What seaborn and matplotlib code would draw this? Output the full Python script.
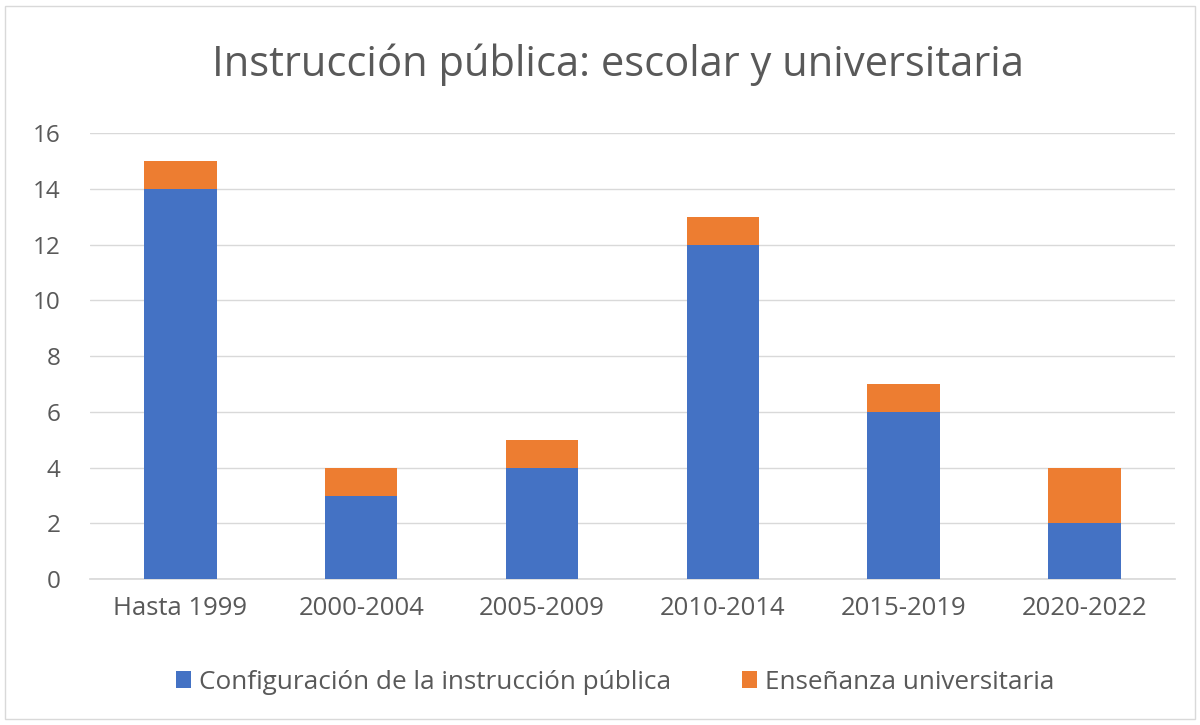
import matplotlib
matplotlib.use("Agg")
import matplotlib.pyplot as plt
import seaborn as sns
import numpy as np
from matplotlib.patches import Rectangle

categories = ["Hasta 1999", "2000-2004", "2005-2009", "2010-2014", "2015-2019", "2020-2022"]
configuracion = [14, 3, 4, 12, 6, 2]
ensenanza = [1, 1, 1, 1, 1, 2]
series_names = ["Configuración de la instrucción pública", "Enseñanza universitaria"]
yticks = [0, 2, 4, 6, 8, 10, 12, 14, 16]

sns.set_theme(style="white")
plt.rcParams['font.family'] = ['Open Sans', 'DejaVu Sans']

blue = "#4472C4"
orange = "#ED7D31"
gray_text = "#595959"

fig = plt.figure(figsize=(12, 7.25), dpi=100)
ax = fig.add_axes([0.075, 0.201, 0.904, 0.6156])

sns.barplot(x=categories, y=configuracion, color=blue, width=0.4, ax=ax,
            label=series_names[0], saturation=1, zorder=3, linewidth=0)
sns.barplot(x=categories, y=ensenanza, bottom=np.array(configuracion), color=orange,
            width=0.4, ax=ax, label=series_names[1], saturation=1, zorder=3, linewidth=0)

handles, labels = ax.get_legend_handles_labels()
if ax.get_legend() is not None:
    ax.get_legend().remove()

ax.set_ylim(0, 16)
ax.set_xlim(-0.5, 5.5)
ax.set_yticks(yticks)
ax.yaxis.grid(True, color="#D9D9D9", linewidth=1, zorder=0)
ax.set_axisbelow(True)
for s in ["top", "right", "left"]:
    ax.spines[s].set_visible(False)
ax.spines["bottom"].set_color("#D9D9D9")
ax.tick_params(axis="both", length=0, labelsize=18.5, colors=gray_text)
ax.tick_params(axis="x", pad=12)
ax.tick_params(axis="y", labelsize=17.5, pad=21)
ax.set_xlabel("")
ax.set_ylabel("")

fig.text(0.515, 0.91, "Instrucción pública: escolar y universitaria", ha="center", va="center",
         fontsize=30, color=gray_text)

fig.legend(handles, labels, loc="center", bbox_to_anchor=(0.5125, 0.059), ncol=2,
           frameon=False, fontsize=18.8, handlelength=0.6, handleheight=0.6,
           handletextpad=0.3, columnspacing=2.7, labelcolor=gray_text)

fig.add_artist(Rectangle((0.004, 0.008), 0.992, 0.984, transform=fig.transFigure,
                         fill=False, edgecolor="#D9D9D9", linewidth=1))

fig.savefig("out.png", dpi=100, facecolor="white")
